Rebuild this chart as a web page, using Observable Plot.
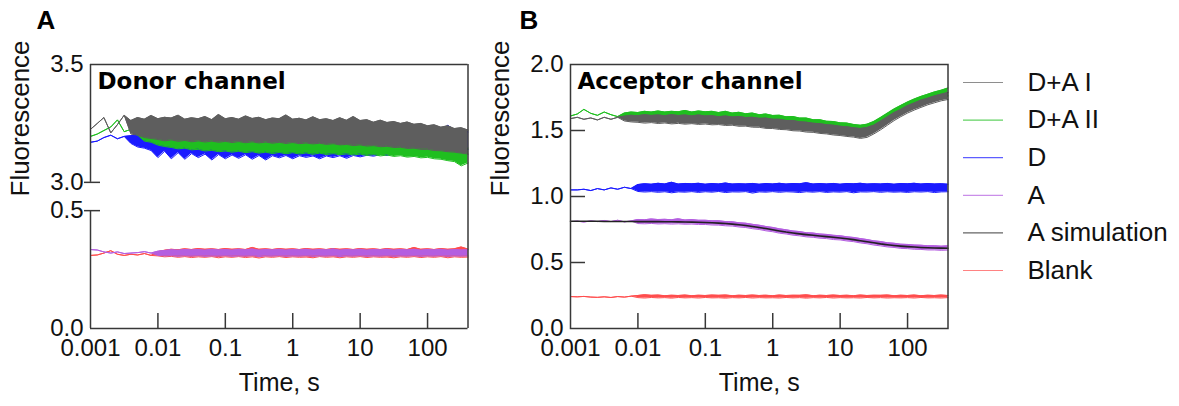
<!DOCTYPE html>
<html><head><meta charset="utf-8">
<script src="https://cdn.jsdelivr.net/npm/d3@7"></script>
<script src="https://cdn.jsdelivr.net/npm/@observablehq/plot@0.6"></script>
<style>
body{margin:0;background:#fff}
#wrap{position:relative;width:1179px;height:406px;overflow:hidden}
#wrap svg{position:absolute;top:0}
</style></head>
<body><div id="wrap"></div>
<script>
// ---------- data ----------
const TIME = [0.001,0.00126,0.00158,0.002,0.00251,0.00316,0.00398,0.00501,0.00631,0.00794,
0.01,0.0126,0.0158,0.02,0.0251,0.0316,0.0398,0.0501,0.0631,0.0794,
0.1,0.126,0.158,0.2,0.251,0.316,0.398,0.501,0.631,0.794,
1,1.26,1.58,2,2.51,3.16,3.98,5.01,6.31,7.94,
10,12.6,15.8,20,25.1,31.6,39.8,50.1,63.1,79.4,
100,126,158,200,251,316,398];

const SERIES = ["D+A I","D+A II","D","A","A simulation","Blank"];
const COLORS = ["#5e5e5e","#1fbf1f","#1a1aff","#b45ee0","#222222","#ff4d4d"];
const X_TICKS = [0.001,0.01,0.1,1,10,100];
const X_TICK_LABELS = ["0.001","0.01","0.1","1","10","100"];
const Y_TICKS_A = [0.0,0.5,3.0,3.5];
const Y_TICKS_B = [0.0,0.5,1.0,1.5,2.0];

// Panel A, donor channel (low / high edge of each noisy trace)
const A_DA1_LO = [3.225,3.25,3.275,3.21,3.245,3.285,
3.205,3.20,3.19,3.186,3.182,3.176,3.18,3.174,3.178,3.172,
3.176,3.171,3.175,3.17,3.174,3.169,3.173,3.168,3.172,3.167,
3.171,3.166,3.17,3.165,3.169,3.164,3.167,3.163,3.166,3.161,
3.164,3.159,3.161,3.156,3.159,3.154,3.156,3.151,3.153,3.148,
3.149,3.144,3.145,3.14,3.14,3.135,3.134,3.13,3.128,3.124,3.12];
const A_DA1_HI = [3.225,3.25,3.275,3.21,3.245,3.285,
3.262,3.275,3.268,3.284,3.27,3.276,3.273,3.285,3.268,3.274,
3.27,3.279,3.266,3.288,3.27,3.275,3.268,3.282,3.271,3.276,
3.266,3.273,3.27,3.286,3.268,3.272,3.265,3.278,3.266,3.27,
3.262,3.274,3.263,3.279,3.262,3.266,3.255,3.264,3.254,3.258,
3.25,3.256,3.246,3.25,3.24,3.244,3.234,3.24,3.228,3.232,3.222];
const A_DA2_LO = [3.195,3.205,3.22,3.235,3.265,3.215,3.225,3.20,3.175,3.17,
3.158,3.152,3.148,3.142,3.145,3.138,3.14,3.133,3.136,3.13,
3.133,3.128,3.132,3.126,3.13,3.124,3.128,3.122,3.127,3.121,
3.126,3.12,3.125,3.119,3.124,3.118,3.122,3.117,3.121,3.116,
3.12,3.114,3.118,3.112,3.116,3.11,3.113,3.107,3.11,3.104,
3.106,3.1,3.098,3.092,3.088,3.07,3.082];
const A_DA2_HI = [3.195,3.205,3.22,3.235,3.265,3.215,3.225,3.20,3.22,3.21,
3.215,3.20,3.21,3.195,3.205,3.19,3.20,3.19,3.195,3.185,
3.19,3.18,3.19,3.18,3.185,3.175,3.185,3.175,3.18,3.17,
3.18,3.17,3.175,3.165,3.175,3.165,3.17,3.16,3.17,3.16,
3.17,3.16,3.165,3.155,3.165,3.155,3.16,3.15,3.16,3.15,
3.155,3.145,3.15,3.14,3.15,3.14,3.145];
const A_D_LO = [3.17,3.175,3.19,3.20,3.185,3.195,
3.165,3.15,3.145,3.135,3.105,3.132,3.10,3.126,3.098,3.122,
3.105,3.12,3.095,3.118,3.10,3.116,3.102,3.117,3.098,3.114,
3.095,3.113,3.104,3.114,3.10,3.113,3.106,3.112,3.10,3.112,
3.105,3.113,3.102,3.114,3.108,3.115,3.111,3.118,3.114,3.12,
3.118,3.125,3.122,3.13,3.128,3.135,3.133,3.138,3.138,3.142,3.14];
const A_D_HI = [3.17,3.175,3.19,3.20,3.185,3.195,
3.198,3.205,3.196,3.2,3.192,3.198,3.188,3.194,3.184,3.19,
3.182,3.186,3.178,3.184,3.174,3.18,3.173,3.178,3.172,3.176,
3.171,3.175,3.168,3.174,3.17,3.175,3.168,3.174,3.17,3.176,
3.168,3.176,3.17,3.18,3.175,3.18,3.176,3.185,3.18,3.19,
3.186,3.195,3.19,3.2,3.197,3.21,3.214,3.242,3.222,3.22,3.214];
const A_BLANK_LO = [0.31,0.312,0.32,0.33,0.315,0.31,0.315,0.312,0.318,0.31,
0.308,0.304,0.306,0.302,0.305,0.301,0.304,0.302,0.305,0.3,
0.304,0.302,0.305,0.301,0.304,0.299,0.304,0.302,0.305,0.301,
0.304,0.302,0.303,0.3,0.305,0.302,0.304,0.3,0.304,0.302,
0.305,0.301,0.304,0.302,0.303,0.3,0.304,0.302,0.305,0.301,
0.304,0.302,0.305,0.3,0.304,0.302,0.303];
const A_BLANK_HI = [0.31,0.312,0.32,0.33,0.315,0.31,0.315,0.312,0.318,0.31,
0.326,0.332,0.336,0.334,0.338,0.335,0.339,0.336,0.338,0.335,
0.339,0.336,0.338,0.335,0.344,0.336,0.338,0.335,0.339,0.336,
0.338,0.335,0.339,0.336,0.338,0.335,0.339,0.336,0.338,0.335,
0.339,0.336,0.338,0.335,0.339,0.336,0.338,0.335,0.344,0.336,
0.338,0.335,0.339,0.336,0.338,0.346,0.337];
const A_A_LO = [0.335,0.333,0.325,0.32,0.325,0.318,0.32,0.322,0.326,0.32,
0.31,0.308,0.309,0.306,0.309,0.307,0.309,0.306,0.308,0.307,
0.309,0.306,0.308,0.307,0.309,0.305,0.308,0.307,0.309,0.306,
0.308,0.307,0.309,0.306,0.308,0.307,0.309,0.305,0.308,0.307,
0.309,0.306,0.308,0.307,0.309,0.306,0.308,0.307,0.309,0.306,
0.308,0.307,0.309,0.306,0.308,0.307,0.308];
const A_A_HI = [0.335,0.333,0.325,0.32,0.325,0.318,0.32,0.322,0.326,0.32,
0.328,0.331,0.334,0.332,0.335,0.333,0.335,0.332,0.336,0.333,
0.335,0.332,0.336,0.333,0.337,0.332,0.335,0.333,0.336,0.332,
0.335,0.333,0.336,0.332,0.335,0.333,0.337,0.332,0.335,0.333,
0.336,0.332,0.335,0.333,0.336,0.332,0.335,0.333,0.336,0.332,
0.335,0.333,0.336,0.332,0.335,0.333,0.334];

// Panel B, acceptor channel
const B_DA1_LO = [1.59,1.60,1.585,1.595,1.58,1.60,1.585,1.60,1.572,1.565,
1.562,1.556,1.56,1.553,1.557,1.55,1.554,1.548,1.552,1.546,
1.549,1.543,1.545,1.538,1.54,1.532,1.533,1.525,1.524,1.516,
1.515,1.508,1.506,1.498,1.496,1.488,1.486,1.478,1.474,1.466,
1.462,1.455,1.45,1.44,1.448,1.474,1.505,1.54,1.575,1.605,
1.632,1.655,1.675,1.695,1.71,1.725,1.735];
const B_DA1_HI = [1.59,1.60,1.585,1.595,1.58,1.60,1.585,1.60,1.608,1.615,
1.612,1.62,1.614,1.618,1.612,1.62,1.613,1.617,1.61,1.618,
1.61,1.612,1.605,1.61,1.602,1.606,1.598,1.6,1.592,1.594,
1.585,1.585,1.576,1.575,1.566,1.563,1.555,1.552,1.544,1.54,
1.532,1.528,1.52,1.515,1.522,1.54,1.57,1.602,1.635,1.66,
1.688,1.708,1.73,1.745,1.762,1.775,1.788];
const B_DA2_LO = [1.61,1.625,1.66,1.63,1.615,1.64,1.62,1.605,1.59,1.588,
1.585,1.583,1.582,1.58,1.58,1.578,1.578,1.575,1.576,1.573,
1.572,1.57,1.568,1.565,1.562,1.558,1.555,1.55,1.546,1.54,
1.536,1.53,1.525,1.518,1.513,1.506,1.5,1.494,1.488,1.482,
1.478,1.472,1.466,1.46,1.47,1.495,1.528,1.562,1.598,1.628,
1.655,1.68,1.7,1.718,1.735,1.75,1.762];
const B_DA2_HI = [1.61,1.625,1.66,1.63,1.615,1.64,1.62,1.605,1.632,1.64,
1.636,1.645,1.64,1.648,1.64,1.645,1.642,1.652,1.64,1.648,
1.642,1.645,1.636,1.645,1.632,1.638,1.627,1.632,1.62,1.625,
1.614,1.616,1.604,1.606,1.594,1.594,1.582,1.582,1.57,1.568,
1.558,1.556,1.546,1.54,1.548,1.568,1.598,1.63,1.662,1.69,
1.715,1.738,1.758,1.775,1.792,1.805,1.822];
const B_D_LO = [1.05,1.05,1.055,1.045,1.06,1.05,1.065,1.055,1.07,1.06,
1.038,1.034,1.037,1.032,1.036,1.028,1.035,1.033,1.037,1.031,
1.036,1.033,1.038,1.03,1.035,1.034,1.037,1.026,1.035,1.033,
1.037,1.032,1.036,1.034,1.03,1.036,1.033,1.037,1.031,1.035,
1.033,1.037,1.028,1.035,1.034,1.037,1.032,1.036,1.033,1.035,
1.031,1.036,1.034,1.037,1.03,1.035,1.036];
const B_D_HI = [1.05,1.05,1.055,1.045,1.06,1.05,1.065,1.055,1.07,1.06,
1.09,1.097,1.093,1.1,1.095,1.108,1.094,1.099,1.096,1.1,
1.093,1.098,1.095,1.102,1.094,1.097,1.095,1.099,1.093,1.098,
1.095,1.1,1.094,1.098,1.096,1.105,1.094,1.098,1.095,1.099,
1.093,1.098,1.096,1.1,1.094,1.097,1.095,1.099,1.093,1.098,
1.096,1.1,1.094,1.098,1.095,1.097,1.093];
const B_A_LO = [0.81,0.813,0.807,0.815,0.81,0.818,0.81,0.82,0.808,0.815,
0.795,0.793,0.796,0.792,0.794,0.791,0.793,0.79,0.791,0.788,
0.788,0.784,0.783,0.778,0.776,0.769,0.765,0.756,0.75,0.74,
0.733,0.722,0.716,0.707,0.702,0.694,0.691,0.684,0.681,0.674,
0.671,0.663,0.658,0.648,0.642,0.632,0.626,0.618,0.614,0.607,
0.605,0.6,0.599,0.595,0.595,0.592,0.594];
const B_A_HI = [0.81,0.813,0.807,0.815,0.81,0.818,0.81,0.82,0.808,0.815,
0.826,0.824,0.83,0.825,0.827,0.824,0.831,0.822,0.825,0.82,
0.82,0.816,0.816,0.81,0.809,0.801,0.798,0.789,0.783,0.773,
0.766,0.755,0.748,0.739,0.734,0.726,0.723,0.716,0.713,0.706,
0.703,0.695,0.69,0.681,0.674,0.664,0.659,0.65,0.646,0.639,
0.637,0.632,0.631,0.627,0.627,0.624,0.626];
const B_SIM = [0.812,0.812,0.812,0.812,0.812,0.811,0.811,0.811,0.811,0.811,
0.81,0.81,0.81,0.81,0.809,0.809,0.808,0.807,0.806,0.805,
0.803,0.801,0.798,0.795,0.791,0.786,0.78,0.773,0.765,0.757,
0.748,0.739,0.731,0.724,0.717,0.711,0.706,0.701,0.696,0.691,
0.686,0.68,0.673,0.665,0.657,0.649,0.641,0.635,0.629,0.624,
0.62,0.617,0.614,0.612,0.61,0.609,0.608];
const B_BLANK_LO = [0.242,0.24,0.243,0.238,0.236,0.24,0.235,0.242,0.238,0.245,
0.234,0.231,0.235,0.232,0.234,0.23,0.235,0.232,0.234,0.231,
0.235,0.232,0.233,0.23,0.234,0.232,0.235,0.231,0.234,0.232,
0.233,0.231,0.235,0.232,0.234,0.23,0.234,0.232,0.235,0.231,
0.234,0.232,0.233,0.231,0.235,0.232,0.234,0.231,0.233,0.232,
0.234,0.231,0.235,0.232,0.233,0.231,0.234];
const B_BLANK_HI = [0.242,0.24,0.243,0.238,0.236,0.24,0.235,0.242,0.238,0.245,
0.25,0.256,0.251,0.253,0.249,0.252,0.25,0.253,0.249,0.252,
0.25,0.253,0.251,0.254,0.249,0.252,0.25,0.253,0.25,0.252,
0.249,0.253,0.25,0.252,0.251,0.255,0.249,0.252,0.25,0.253,
0.25,0.252,0.249,0.253,0.25,0.252,0.251,0.254,0.249,0.252,
0.25,0.253,0.249,0.252,0.25,0.253,0.25];

// ---------- checks ----------
const ALL = {A_DA1_LO,A_DA1_HI,A_DA2_LO,A_DA2_HI,A_D_LO,A_D_HI,A_BLANK_LO,A_BLANK_HI,A_A_LO,A_A_HI,
  B_DA1_LO,B_DA1_HI,B_DA2_LO,B_DA2_HI,B_D_LO,B_D_HI,B_A_LO,B_A_HI,B_SIM,B_BLANK_LO,B_BLANK_HI};
const bad = Object.entries(ALL).filter(([k,v]) => v.length !== TIME.length).map(([k,v]) => k+":"+v.length);
if (bad.length) throw new Error("length mismatch " + bad.join(", "));

// ---------- helpers ----------
const color = name => COLORS[SERIES.indexOf(name)];
const FONT = "'Liberation Sans', Arial, Helvetica, sans-serif";
const FRAME = "#383838";
const band = (lo, hi) => TIME.map((t, i) => ({t, lo: lo[i], hi: hi[i]}));
function bandMarks(data, c, fy) {
  return [
    Plot.areaY(data, {x: "t", y1: d => fy(d.lo), y2: d => fy(d.hi), fill: c}),
    Plot.lineY(data, {x: "t", y: d => fy(d.lo), stroke: c, strokeWidth: 1}),
    Plot.lineY(data, {x: "t", y: d => fy(d.hi), stroke: c, strokeWidth: 1})
  ];
}
const fmtX = d => X_TICK_LABELS[X_TICKS.indexOf(d)];
const W = 480, H = 406, ML = 90, MR = 12.5, MT = 64, MB = 78;
const FW = W - ML - MR, FH = H - MT - MB;
const XDOM = [0.001, 398];

function commonText(title, letter, letterDx) {
  return [
    Plot.text([title], {text: d => d, frameAnchor: "top-left", dx: 7, dy: 8, textAnchor: "start", lineAnchor: "top",
      fontWeight: "bold", fontSize: 23, fontFamily: "DejaVu Sans", fill: "#000"}),
    Plot.text([letter], {text: d => d, frameAnchor: "top-left", dx: letterDx, dy: -54, textAnchor: "start", lineAnchor: "top",
      fontWeight: "bold", fontSize: 26, fill: "#000"}),
    Plot.text(["Fluorescence"], {text: d => d, frameAnchor: "left", dx: -70, rotate: -90, fontSize: 26, fill: "#111"}),
    Plot.text(["Time, s"], {text: d => d, frameAnchor: "bottom", dy: 62, fontSize: 25, fill: "#111"}),
    Plot.tickX(X_TICKS.slice(1), {x: d => d, insetTop: FH - 15, stroke: FRAME, strokeWidth: 1.5}),
    Plot.axisX({ticks: X_TICKS, tickSize: 0, tickPadding: 10, tickFormat: fmtX, label: null, fill: "#111"})
  ];
}

// ---------- Panel A (broken y axis: 0–0.5 and 3.0–3.5) ----------
const GAP = 0.12;
const ya = v => v >= 2 ? v - 3.0 + 0.5 + GAP : v;
const yTopA = ya(3.5);

const panelA = Plot.plot({
  width: W, height: H, marginLeft: ML, marginRight: MR, marginTop: MT, marginBottom: MB,
  x: {type: "log", domain: XDOM},
  y: {domain: [0, yTopA]},
  style: {fontFamily: FONT, fontSize: "24px", color: "#111", background: "none"},
  marks: [
    ...bandMarks(band(A_BLANK_LO, A_BLANK_HI), color("Blank"), ya),
    ...bandMarks(band(A_A_LO, A_A_HI), color("A"), ya),
    ...bandMarks(band(A_D_LO, A_D_HI), color("D"), ya),
    ...bandMarks(band(A_DA2_LO, A_DA2_HI), color("D+A II"), ya),
    ...bandMarks(band(A_DA1_LO, A_DA1_HI), color("D+A I"), ya),
    Plot.ruleY([0, yTopA], {stroke: FRAME, strokeWidth: 1.5}),
    Plot.ruleX([XDOM[1]], {y1: 0, y2: yTopA, stroke: FRAME, strokeWidth: 1.5}),
    Plot.ruleX([XDOM[0]], {y1: 0, y2: ya(0.5), stroke: FRAME, strokeWidth: 1.5}),
    Plot.ruleX([XDOM[0]], {y1: ya(3.0), y2: yTopA, stroke: FRAME, strokeWidth: 1.5}),
    Plot.tickY([ya(0.5), ya(3.0)], {y: d => d, insetLeft: -6, insetRight: FW - 10, stroke: FRAME, strokeWidth: 1.5}),
    Plot.axisY({ticks: Y_TICKS_A.map(ya), tickSize: 0, tickPadding: 7, label: null, fill: "#111",
      tickFormat: d => Y_TICKS_A.find(v => Math.abs(ya(v) - d) < 1e-9).toFixed(1)}),
    ...commonText("Donor channel", "A", -54)
  ]
});

// ---------- Panel B ----------
const idy = v => v;
const panelB = Plot.plot({
  width: W, height: H, marginLeft: ML, marginRight: MR, marginTop: MT, marginBottom: MB,
  x: {type: "log", domain: XDOM},
  y: {domain: [0, 2]},
  style: {fontFamily: FONT, fontSize: "24px", color: "#111", background: "none"},
  marks: [
    ...bandMarks(band(B_BLANK_LO, B_BLANK_HI), color("Blank"), idy),
    ...bandMarks(band(B_A_LO, B_A_HI), color("A"), idy),
    Plot.lineY(TIME.map((t, i) => ({t, v: B_SIM[i]})), {x: "t", y: "v", stroke: color("A simulation"), strokeWidth: 1.6}),
    ...bandMarks(band(B_D_LO, B_D_HI), color("D"), idy),
    ...bandMarks(band(B_DA2_LO, B_DA2_HI), color("D+A II"), idy),
    ...bandMarks(band(B_DA1_LO, B_DA1_HI), color("D+A I"), idy),
    Plot.frame({stroke: FRAME, strokeWidth: 1.5}),
    Plot.tickY(Y_TICKS_B.slice(1, -1), {y: d => d, insetRight: FW - 15, stroke: FRAME, strokeWidth: 1.5}),
    Plot.axisY({ticks: Y_TICKS_B, tickSize: 0, tickPadding: 7, label: null, fill: "#111", tickFormat: d => d.toFixed(1)}),
    ...commonText("Acceptor channel", "B", -51)
  ]
});

// ---------- Legend ----------
const rowY = (d, i) => 82 + i * 37.6;
const legend = Plot.plot({
  width: 219, height: H, margin: 0,
  x: {type: "identity", axis: null}, y: {type: "identity", axis: null},
  style: {fontFamily: FONT, fontSize: "26px", color: "#111", background: "none"},
  marks: [
    Plot.ruleY(SERIES, {y: rowY, x1: 3, x2: 43, stroke: d => color(d), strokeWidth: 1.2, strokeOpacity: 0.7}),
    Plot.text(SERIES, {x: 67, y: rowY, text: d => d, textAnchor: "start", fontSize: 26, fill: "#111"})
  ]
});

const wrap = document.getElementById("wrap");
[[panelA, 0], [panelB, 480], [legend, 960]].forEach(([el, left]) => {
  el.style.left = left + "px";
  wrap.appendChild(el);
});
</script>
</body></html>
